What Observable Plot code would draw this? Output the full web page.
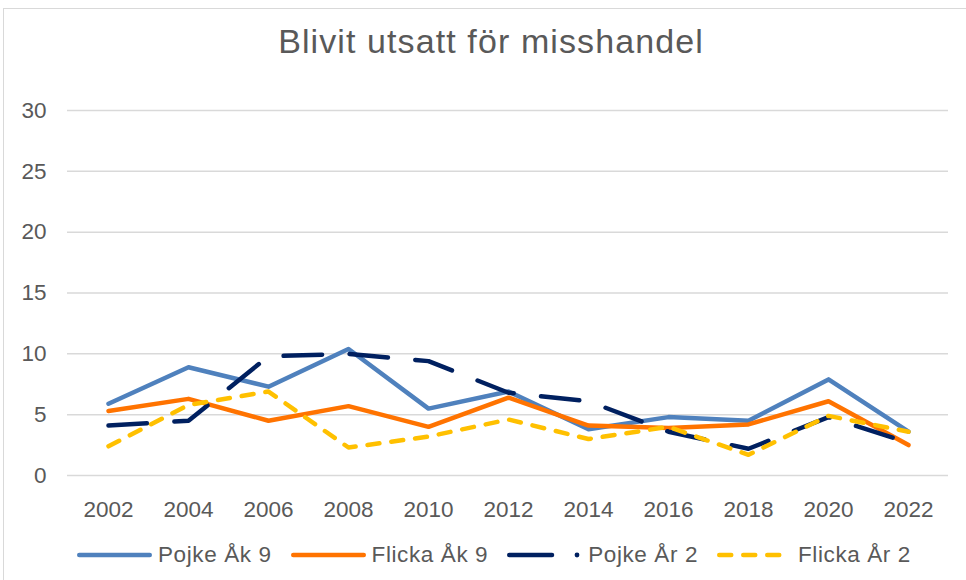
<!DOCTYPE html>
<html><head><meta charset="utf-8">
<script src="https://cdn.jsdelivr.net/npm/d3@7"></script>
<script src="https://cdn.jsdelivr.net/npm/@observablehq/plot@0.6"></script>
<style>
body{margin:0;background:#fff;font-family:"Liberation Sans",Arial,sans-serif;color:#595959;}
#wrap{position:relative;width:966px;height:580px;overflow:hidden;background:#fff;}
#frame{position:absolute;left:3px;top:8px;width:1000px;height:600px;border-left:1px solid #d9d9d9;border-top:1px solid #d9d9d9;pointer-events:none;}
#title{position:relative;height:80px;box-sizing:border-box;padding:22px 0 0 16px;text-align:center;font-size:34px;line-height:38px;letter-spacing:1.1px;}
#chart{position:relative;height:450px;}
#legend{position:relative;height:50px;display:flex;align-items:center;padding-left:77px;font-size:22.5px;letter-spacing:0.6px;}
.item{display:flex;align-items:center;margin-right:19px;}
.item svg{display:block;}
.item span{margin-left:5px;white-space:nowrap;}
</style></head>
<body>
<div id="wrap">
<div id="frame"></div>
<div id="title">Blivit utsatt för misshandel</div>
<div id="chart"></div>
<div id="legend"></div>
</div>
<script>
const years = ["2002","2004","2006","2008","2010","2012","2014","2016","2018","2020","2022"];
const pojkeAk9  = [5.9, 8.9, 7.3, 10.4, 5.5, 6.9, 3.8, 4.8, 4.5, 7.9, 3.6];
const flickaAk9 = [5.3, 6.3, 4.5, 5.7, 4.0, 6.4, 4.1, 3.9, 4.2, 6.1, 2.5];
const pojkeAr2  = [4.1, 4.5, 9.8, 10.0, 9.4, 6.8, 6.1, 3.6, 2.2, 4.8, 2.7];
const flickaAr2 = [2.4, 5.8, 6.9, 2.3, 3.2, 4.6, 3.0, 4.0, 1.7, 4.9, 3.6];
const yTicks = [0, 5, 10, 15, 20, 25, 30];
const seriesNames = ["Pojke Åk 9", "Flicka Åk 9", "Pojke År 2", "Flicka År 2"];

const seriesValues = [pojkeAk9, flickaAk9, pojkeAr2, flickaAr2];
const colors = ["#4F81BD", "#FF7300", "#002060", "#FFC000"];
const dashes = [null, null, "38.5 27.5", "12 12"];
const W = 4.5;

const table = seriesNames.map((name, i) => years.map((year, j) => ({series: name, year, value: seriesValues[i][j]})));

const marks = [
  Plot.ruleY(yTicks, {stroke: "#d9d9d9", strokeWidth: 1.5}),
  Plot.axisY(yTicks, {tickSize: 0, tickPadding: 21, fontSize: 22.5}),
  Plot.axisX(years, {tickSize: 0, tickPadding: 26, fontSize: 22.5}),
];
table.forEach((data, i) => {
  marks.push(Plot.line(data, {
    x: "year", y: "value",
    stroke: colors[i], strokeWidth: W,
    strokeLinejoin: "round", strokeLinecap: "round",
    strokeDasharray: dashes[i] ?? undefined
  }));
});

const plot = Plot.plot({
  width: 966, height: 450,
  marginLeft: 67, marginRight: 18, marginTop: 30, marginBottom: 55,
  x: {type: "point", domain: years, label: null, axis: null},
  y: {domain: [0, 30], label: null, axis: null},
  style: {fontFamily: '"Liberation Sans", Arial, sans-serif', fontSize: "22px", color: "#595959", background: "transparent", overflow: "visible"},
  marks
});
document.getElementById("chart").appendChild(plot);

// legend
const legend = document.getElementById("legend");
const ns = "http://www.w3.org/2000/svg";
seriesNames.forEach((name, i) => {
  const item = document.createElement("div");
  item.className = "item";
  const svg = document.createElementNS(ns, "svg");
  svg.setAttribute("width", 76);
  svg.setAttribute("height", 12);
  const line = document.createElementNS(ns, "line");
  line.setAttribute("x1", 2.25);
  line.setAttribute("y1", 6);
  line.setAttribute("y2", 6);
  line.setAttribute("stroke", colors[i]);
  line.setAttribute("stroke-width", W);
  line.setAttribute("stroke-linecap", "round");
  if (i === 2) {
    line.setAttribute("x2", 45);
    svg.appendChild(line);
    const dot = document.createElementNS(ns, "circle");
    dot.setAttribute("cx", 70);
    dot.setAttribute("cy", 6);
    dot.setAttribute("r", 2.4);
    dot.setAttribute("fill", colors[i]);
    svg.appendChild(dot);
  } else {
    line.setAttribute("x2", 72.75);
    if (dashes[i]) line.setAttribute("stroke-dasharray", dashes[i]);
    svg.appendChild(line);
  }
  item.appendChild(svg);
  const span = document.createElement("span");
  span.textContent = name;
  item.appendChild(span);
  legend.appendChild(item);
});
</script>
</body></html>
